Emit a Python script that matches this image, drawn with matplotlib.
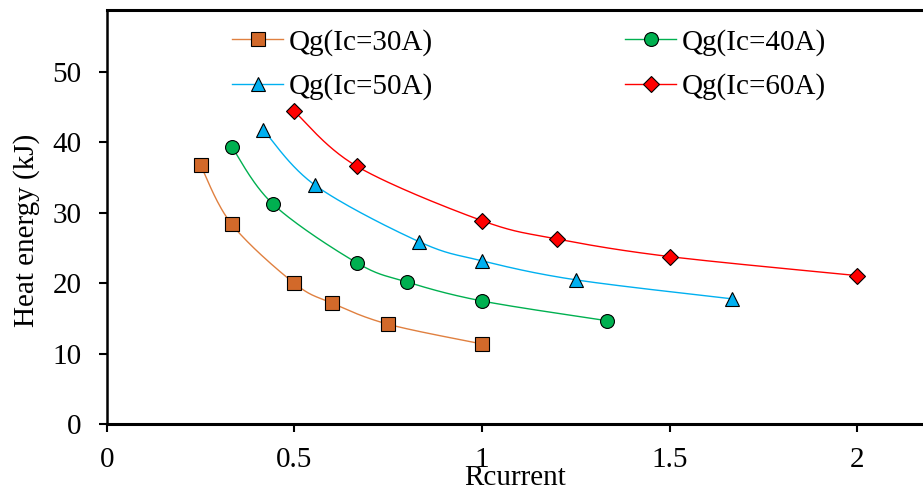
import numpy as np
import matplotlib.pyplot as plt

# Data: Rcurrent vs heat energy (kJ)
x30 = [0.25, 0.333, 0.5, 0.6, 0.75, 1.0]
q30 = [36.8, 28.4, 20.0, 17.2, 14.2, 11.4]

x40 = [0.333, 0.444, 0.667, 0.8, 1.0, 1.333]
q40 = [39.4, 31.2, 22.9, 20.2, 17.5, 14.7]

x50 = [0.417, 0.556, 0.833, 1.0, 1.25, 1.667]
q50 = [41.8, 33.9, 25.9, 23.2, 20.5, 17.8]

x60 = [0.5, 0.667, 1.0, 1.2, 1.5, 2.0]
q60 = [44.4, 36.6, 28.9, 26.3, 23.8, 21.1]

labels = ['Qg(Ic=30A)', 'Qg(Ic=40A)', 'Qg(Ic=50A)', 'Qg(Ic=60A)']


def smooth(x, y, n=30):
    # Catmull-Rom style smoothing (like Excel "smoothed line"), line only
    x = np.asarray(x, float)
    y = np.asarray(y, float)
    px = np.concatenate([[x[0]], x, [x[-1]]])
    py = np.concatenate([[y[0]], y, [y[-1]]])
    xs, ys = [], []
    t = np.linspace(0, 1, n)
    for i in range(1, len(px) - 2):
        p0, p1, p2, p3 = (np.array([px[j], py[j]]) for j in (i - 1, i, i + 1, i + 2))
        c1 = p1 + (p2 - p0) / 6
        c2 = p2 - (p3 - p1) / 6
        b = ((1 - t) ** 3)[:, None] * p1 + (3 * (1 - t) ** 2 * t)[:, None] * c1 \
            + (3 * (1 - t) * t ** 2)[:, None] * c2 + (t ** 3)[:, None] * p2
        xs.extend(b[:, 0])
        ys.extend(b[:, 1])
    return xs, ys


plt.rcParams['font.family'] = 'Liberation Serif'
FS = 21

fig = plt.figure(figsize=(9.23, 4.97), dpi=100)
ax = fig.add_axes([0.1156, 0.1463, 0.8844, 0.8336])

series = [
    (x30, q30, 's', '#D2692A', '#E08040', 9.5),
    (x40, q40, 'o', '#00B050', '#00B050', 10),
    (x50, q50, '^', '#00B0F0', '#00B0F0', 10.5),
    (x60, q60, 'D', '#FF0000', '#FF0000', 8),
]

handles = []
for (xs, ys, mk, fc, lc, ms), lab in zip(series, labels):
    sx, sy = smooth(xs, ys)
    ax.plot(sx, sy, color=lc, lw=1.0, zorder=2)
    ax.plot(xs, ys, ls='none', marker=mk, ms=ms, mfc=fc, mec='black', mew=0.8, zorder=3)
    h, = ax.plot([], [], color=lc, lw=1.0, marker=mk, ms=ms, mfc=fc, mec='black', mew=0.8)
    handles.append(h)

ax.set_xlim(0, 2.175)
ax.set_ylim(0, 58.8)
ax.set_xticks([0, 0.5, 1, 1.5, 2])
ax.set_xticklabels(['0', '0.5', '1', '1.5', '2'])
ax.set_yticks([0, 10, 20, 30, 40, 50])

ax.spines['right'].set_visible(False)
ax.spines['left'].set_linewidth(1.8)
ax.spines['bottom'].set_linewidth(2.2)
ax.spines['top'].set_linewidth(2.2)
ax.tick_params(direction='out', length=6, width=1.5, labelsize=FS)
ax.tick_params(axis='x', pad=10)
ax.tick_params(axis='y', pad=12)

ax.set_xlabel('Rcurrent', fontsize=FS)
ax.xaxis.set_label_coords(0.5, -0.098)
ax.set_ylabel('Heat energy (kJ)', fontsize=FS)
ax.yaxis.set_label_coords(-0.082, 0.469)

order = [0, 2, 1, 3]
ax.legend([handles[i] for i in order], [labels[i] for i in order],
          ncol=2, frameon=False, fontsize=FS, loc='upper left',
          bbox_to_anchor=(0.1536, 0.954), borderpad=0, borderaxespad=0,
          handlelength=1.76, handletextpad=0.17,
          columnspacing=6.6, labelspacing=0.59)

fig.savefig('out.png', dpi=100)
